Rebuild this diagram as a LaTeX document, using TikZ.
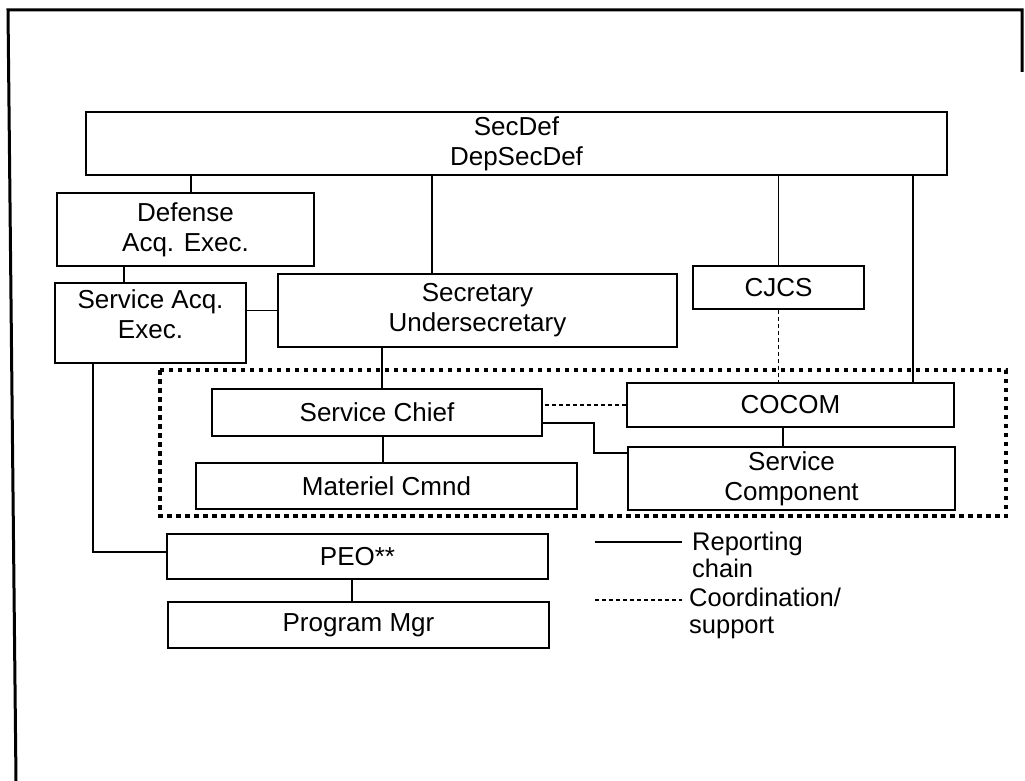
\documentclass[tikz,border=0pt]{standalone}
\usepackage{fontspec}
\setmainfont{Liberation Sans}
\usetikzlibrary{positioning}

\begin{document}
\begin{tikzpicture}
  [x=1pt,y=-1pt,
  org/.style={rectangle,draw=black,line width=1.8pt,inner sep=0pt,align=center,font=\fontsize{26}{30}\selectfont},
  link/.style={draw=black,line width=1.4pt},
  coord/.style={draw=black,line width=1.4pt,dash pattern=on 4pt off 3pt},
  group/.style={draw=black,line width=4.5pt,dash pattern=on 4.5pt off 4.5pt},
  frame/.style={draw=black,line width=3pt},
  legtext/.style={anchor=west,align=left,inner sep=0pt,font=\fontsize{25.5}{27}\selectfont}]

\useasboundingbox (0,0) rectangle (1025,781);
\draw[frame] (16,781) -- (8,10) -- (1022,10) -- (1022,72);

% OSD level
\node[org,minimum width=861pt,minimum height=63pt] (secdef) at (516.5,143.5) {SecDef\\DepSecDef};
\node[org,minimum width=257pt,minimum height=73pt] (dae) at (185.5,229.5) {Defense\\Acq. Exec.};
\node[org,minimum width=191pt,minimum height=80pt] (sae) at (150.5,323) {Service Acq.\\Exec.\rule[-17pt]{0pt}{18pt}};
\node[org,minimum width=399pt,minimum height=73pt] (sec) at (477.5,310.5) {Secretary\\Undersecretary};
\node[org,minimum width=171pt,minimum height=43pt] (cjcs) at (778.5,287.5) {CJCS};

% service and combatant commands
\draw[group] (160,370) rectangle (1006,516);
\node[org,minimum width=330pt,minimum height=47pt] (chief) at (377,412.5) {Service Chief};
\node[org,minimum width=381pt,minimum height=46pt] (mat) [below=25pt of chief,xshift=9.5pt] {Materiel Cmnd};
\node[org,minimum width=327pt,minimum height=44pt] (cocom) at (790.5,405) {COCOM};
\node[org,minimum width=327pt,minimum height=63pt] (svc) [below=18pt of cocom,xshift=1pt] {Service\\Component};

% acquisition chain
\node[org,minimum width=381pt,minimum height=45pt] (peo) at (357.5,556.5) {PEO**};
\node[org,minimum width=381pt,minimum height=46pt] (pm) [below=21pt of peo,xshift=1pt] {Program Mgr};

\draw[link] ([xshift=5.5pt]dae.north) -- ([xshift=5.5pt]dae.north |- secdef.south);
\draw[link] ([xshift=-26.5pt]sae.north) -- ([xshift=-26.5pt]sae.north |- dae.south);
\draw[link] ([xshift=-45.5pt]sec.north) -- ([xshift=-45.5pt]sec.north |- secdef.south);
\draw[link] (cjcs.north) -- (cjcs.north |- secdef.south);
\draw[link] ([xshift=122.5pt]cocom.north) -- ([xshift=122.5pt]cocom.north |- secdef.south);
\draw[link] (sec.west) -- (sec.west -| sae.east);
\draw[link] ([xshift=5pt]chief.north) -- ([xshift=5pt]chief.north |- sec.south);
\draw[link] ([xshift=6pt]chief.south) -- ([xshift=6pt]chief.south |- mat.north);
\draw[link] ([xshift=-7.5pt]cocom.south) -- ([xshift=-7.5pt]cocom.south |- svc.north);
\draw[link] ([yshift=-10.5pt]chief.east) -- ++(51,0) |- ([yshift=25.5pt]svc.west);
\draw[link] ([xshift=-57.5pt]sae.south) |- ([yshift=4.5pt]peo.west);
\draw[link] ([xshift=-5.5pt]peo.south) -- ([xshift=-5.5pt]peo.south |- pm.north);

% coordination lines
\draw[coord] (cjcs.south) -- (cjcs.south |- cocom.north);
\draw[coord] (cocom.west) -- (cocom.west -| chief.east);

% legend
\coordinate (rep-a) at (595,542);
\coordinate (rep-b) at (682,542);
\coordinate (cor-a) at (595,600);
\coordinate (cor-b) at (682,600);
\draw[link] (rep-a) -- (rep-b);
\draw[coord] (cor-a) -- (cor-b);
\node[legtext] (rep) at (692,555) {Reporting\\chain};
\node[legtext] (cor) at (689,613) {Coordination/\\support};

\end{tikzpicture}
\end{document}
